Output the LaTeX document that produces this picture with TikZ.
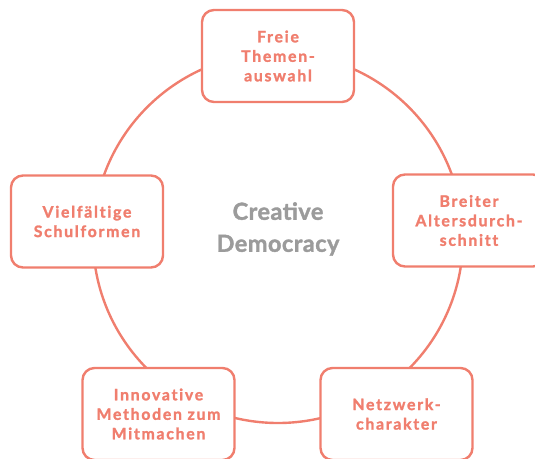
\documentclass[tikz,border=0pt]{standalone}
\usepackage{fontspec}
\setmainfont{Lato}
\newfontfamily\boxfont{Lato}[LetterSpace=11, Ligatures=NoCommon, BoldFeatures={FakeBold=1.6}]
\newfontfamily\titlefont{Lato}[LetterSpace=2, BoldFeatures={FakeBold=1.6}]
\definecolor{salmon}{RGB}{240,126,110}
\definecolor{titlegray}{RGB}{155,155,155}
\begin{document}
\begin{tikzpicture}[x=1pt,y=1pt,
  topicbox/.style={draw=salmon, line width=2.4pt, fill=white, rounded corners=12pt,
    minimum width=152pt, minimum height=92pt, align=center, text=salmon,
    inner sep=0pt, font=\boxfont\bfseries\fontsize{15.8}{19.5}\selectfont},
  ringstyle/.style={circle, draw=salmon, line width=2.4pt, minimum size=370pt, inner sep=0pt}]
\useasboundingbox (0,0) rectangle (535,-458);
\node[ringstyle] (ring) at (278,-238) {};
\node[align=center, text=titlegray, font=\titlefont\bfseries\fontsize{23.5}{32}\selectfont] (title) at (278,-229) {Creative\\Democracy};
\node[topicbox] (themen) at (278,-56) {Freie\\Themen-\\auswahl};
\node[topicbox] (schul) at (87,-221.5) {Vielfältige\\Schulformen};
\node[topicbox] (alter) at (469,-220.5) {Breiter\\Altersdurch-\\schnitt};
\node[topicbox] (methoden) at (158.5,-414) {Innovative\\Methoden zum\\Mitmachen};
\node[topicbox] (netz) at (396.5,-414) {Netzwerk-\\charakter};
\end{tikzpicture}
\end{document}
